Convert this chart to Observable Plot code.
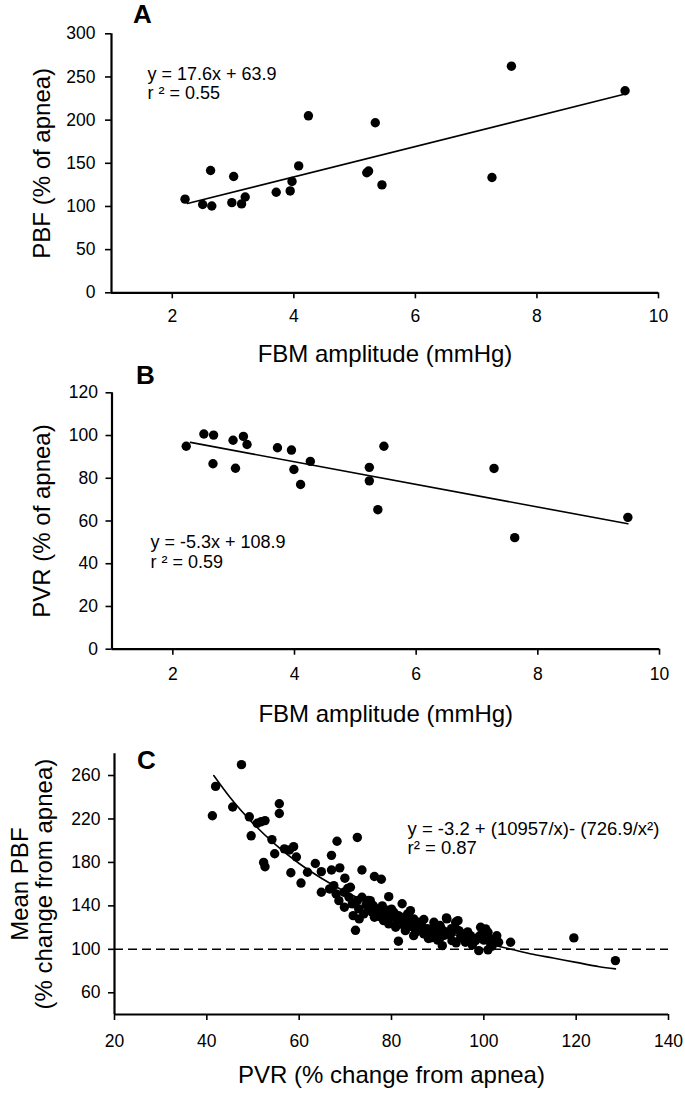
<!DOCTYPE html>
<html><head><meta charset="utf-8">
<script src="https://cdn.jsdelivr.net/npm/d3@7"></script>
<script src="https://cdn.jsdelivr.net/npm/@observablehq/plot@0.6"></script>
<style>
body{margin:0;background:#fff;}
#wrap{position:relative;width:685px;height:1094px;background:#fff;overflow:hidden;}
#wrap svg{position:absolute;left:0;overflow:visible;}
</style></head><body><div id="wrap"></div>
<script>
const FONT = "'Liberation Sans', Arial, Helvetica, sans-serif";

// ---- Panel A: PBF vs FBM amplitude ----
const aFBM = [2.21, 2.50, 2.65, 2.63, 2.98, 3.01, 3.14, 3.20, 3.71, 3.94, 3.97, 4.08, 4.24, 5.20, 5.23, 5.34, 5.45, 7.26, 7.58, 9.45];
const aPBF = [108.5, 102.3, 100.5, 141.7, 104.4, 134.7, 103, 111, 116.5, 118, 129, 147, 205, 139, 141, 197, 125, 133.6, 262.5, 234];
const aFitX = [2.25, 9.45];
const aFitY = [103.5, 230.2];
const aXTicks = [2, 4, 6, 8, 10];
const aYTicks = [0, 50, 100, 150, 200, 250, 300];
const aXDomain = [1, 10];
const aYDomain = [0, 300];
const aEq = ["y = 17.6x + 63.9", "r ² = 0.55"];

// ---- Panel B: PVR vs FBM amplitude ----
const bFBM = [2.22, 2.51, 2.67, 2.66, 2.99, 3.03, 3.16, 3.22, 3.72, 3.95, 3.99, 4.10, 4.26, 5.23, 5.23, 5.37, 5.47, 7.28, 7.62, 9.48];
const bPVR = [95.0, 100.7, 100.2, 86.8, 97.8, 84.7, 99.6, 95.8, 94.3, 93.2, 84.1, 77.1, 87.9, 85.1, 78.8, 65.3, 95.0, 84.6, 52.2, 61.7];
const bFitX = [2.29, 9.48];
const bFitY = [96.8, 58.7];
const bXTicks = [2, 4, 6, 8, 10];
const bYTicks = [0, 20, 40, 60, 80, 100, 120];
const bXDomain = [1, 10];
const bYDomain = [0, 120];
const bEq = ["y = -5.3x + 108.9", "r ² = 0.59"];

// ---- Panel C: Mean PBF vs PVR ----
const cPVR = [41.2, 41.9, 45.6, 47.5, 49.2, 49.6, 50.9, 51.8, 52.6, 52.3, 52.6, 54.1, 54.7, 55.7, 55.7, 56.8, 57.9, 58.8, 59.4, 58.2,
  60.4, 61.8, 63.5, 64.8, 68.2, 67.0, 67.0, 68.8, 72.6, 69.9, 73.6, 76.3, 77.8, 79.4, 72.2, 81.5, 82.3,
  64.8, 66.6, 67.5, 68.0, 68.6, 69.7, 69.8, 70.8, 71.1, 71.5, 71.7, 72.6, 72.9, 73.6, 74.0, 74.9, 75.4, 75.8, 76.3, 76.9,
  77.6, 78.3, 78.7, 79.4, 79.8, 80.5, 80.9, 81.2, 81.9, 82.7, 83.0, 83.5, 84.1, 84.7, 85.2, 85.9, 86.4, 87.0, 87.7, 88.4,
  89.2, 89.9, 90.6, 91.2, 91.9, 92.4, 93.1, 93.9, 94.4, 95.0, 95.7, 96.8,
  84.1, 83.0, 84.8, 85.9, 82.7, 85.2, 84.8, 87.7, 89.2, 90.6, 92.0, 93.9, 89.2, 91.0, 92.8, 94.6, 95.3, 96.0,
  97.1, 98.2, 99.3, 100.4, 99.6, 100.9, 101.4, 98.9, 100.9, 102.2, 103.2, 105.8, 119.5, 128.5,
  73.0, 74.5, 70.5, 78.0, 80.0, 86.0, 88.0, 97.5, 99.0, 101.5,
  76.0, 77.5, 79.0, 81.5, 83.5, 86.5, 88.5, 90.0, 91.5, 93.0, 94.0, 96.5, 97.5, 98.5, 100.0, 101.8, 102.8, 90.5, 87.0, 75.0];
const cPBF = [223, 250, 231, 270, 222, 204.5, 216, 217.5, 218.5, 180, 176, 201, 188, 234, 225, 192.5, 191.5, 194.5, 185, 170.5,
  161, 171, 179, 171.5, 199.5, 186.5, 173, 175, 203, 165.5, 173, 167, 164.5, 148.5, 117.5, 107.5, 142,
  152.5, 155.6, 158.6, 151.0, 144.8, 152.5, 138.7, 147.9, 157.1, 141.8, 131.0, 144.8, 137.2, 147.9, 132.6, 138.7, 144.8, 134.1, 129.5, 137.2,
  132.6, 126.4, 134.1, 123.4, 129.5, 134.1, 120.3, 126.4, 129.5, 123.4, 117.2, 132.6, 128.0, 120.3, 124.9, 117.2, 123.4, 114.2, 118.8, 114.2,
  121.8, 115.7, 111.1, 117.2, 128.9, 114.2, 108.0, 118.8, 126.4, 111.1, 114.2, 108.0,
  135.6, 129.5, 128.0, 124.9, 121.8, 115.7, 112.6, 118.8, 124.9, 120.3, 128.0, 124.9, 111.1, 103.4, 114.2, 117.2, 111.1, 106.5,
  112.6, 108.0, 120.3, 118.8, 114.2, 115.7, 109.6, 98.8, 99.5, 108.0, 106.5, 106.5, 110.5, 89.6,
  128.0, 141.0, 156.0, 140.0, 137.0, 120.0, 110.0, 104.0, 112.0, 104.0,
  140.5, 130.0, 136.0, 131.0, 124.0, 121.0, 110.5, 108.5, 113.0, 119.0, 106.0, 116.0, 104.5, 110.0, 108.5, 103.0, 112.5, 122.0, 127.5, 145.0];
const cCurveX = [41.5, 45, 50, 55, 60, 65, 70, 75, 80, 85, 90, 95, 100, 105, 110, 115, 120, 125, 128.5];
const cCurveY = [260, 240, 216, 196, 179, 165, 153, 143, 134, 126, 118, 112, 106, 101, 96, 92, 88, 84, 82];
const cRef = [100];
const cXTicks = [20, 40, 60, 80, 100, 120, 140];
const cYTicks = [60, 100, 140, 180, 220, 260];
const cXDomain = [20, 140];
const cYDomain = [40, 280];
const cEq = ["y = -3.2 + (10957/x)- (726.9/x²)", "r² = 0.87"];

const zipXY = (xs, ys) => xs.map((x, i) => ({x, y: ys[i]}));

function panel(o) {
  const svg = Plot.plot({
    width: 685, height: o.height,
    marginTop: o.mt, marginBottom: o.height - o.axisY, marginLeft: o.ml, marginRight: 685 - o.mr,
    style: {fontFamily: FONT, background: "transparent", color: "black", overflow: "visible"},
    x: {domain: o.xDomain},
    y: {domain: o.yDomain},
    marks: [
      Plot.axisX({ticks: o.xTicks, tickSize: 6, tickPadding: o.xPad, fontSize: 17.5, strokeWidth: 1.6, label: null}),
      Plot.axisY({ticks: o.yTicks, tickSize: 6, tickPadding: o.yPad, fontSize: 17.5, strokeWidth: 1.6, label: null}),
      Plot.ruleX([o.xDomain[0]], {y1: o.yDomain[0], y2: o.yDomain[1], strokeWidth: 2.2}),
      Plot.ruleY([o.yDomain[0]], {x1: o.xDomain[0], x2: o.xDomain[1], strokeWidth: 2.2}),
      ...(o.extra || []),
      Plot.line(o.fit, {x: "x", y: "y", strokeWidth: 1.6, curve: o.curve || "linear"}),
      Plot.dot(o.pts, {x: "x", y: "y", r: o.r, fill: "black", stroke: "none"}),
      Plot.text([o.letter], {frameAnchor: "top-left", dx: o.letterDx, dy: o.letterDy, textAnchor: "middle", lineAnchor: "bottom", fontSize: 26, fontWeight: "bold"}),
      Plot.text([o.eq[0]], {frameAnchor: "top-left", dx: o.eqDx, dy: o.eqDy[0], textAnchor: "start", lineAnchor: "middle", fontSize: o.eqSize}),
      Plot.text([o.eq[1]], {frameAnchor: "top-left", dx: o.eqDx, dy: o.eqDy[1], textAnchor: "start", lineAnchor: "middle", fontSize: o.eqSize}),
      Plot.text([o.xLabel], {frameAnchor: "bottom", dy: o.xLabelDy, textAnchor: "middle", lineAnchor: "middle", fontSize: 24}),
      ...o.yLabels.map((t, i) => Plot.text([t], {frameAnchor: "left", dx: o.yLabelDx[i], rotate: -90, textAnchor: "middle", lineAnchor: "middle", fontSize: 24}))
    ]
  });
  svg.style.top = o.top + "px";
  return svg;
}

const wrap = document.getElementById("wrap");

wrap.appendChild(panel({
  top: 0, height: 364, mt: 33.3, axisY: 292.3, ml: 111, mr: 658,
  xDomain: aXDomain, yDomain: aYDomain, xTicks: aXTicks, yTicks: aYTicks, xPad: 11, yPad: 10,
  fit: zipXY(aFitX, aFitY), pts: zipXY(aFBM, aPBF), r: 4.7,
  letter: "A", letterDx: 31, letterDy: -10.6,
  eq: aEq, eqDx: 36, eqDy: [40.2, 59.2], eqSize: 18,
  xLabel: "FBM amplitude (mmHg)", xLabelDy: 62,
  yLabels: ["PBF (% of apnea)"], yLabelDx: [-69]
}));

wrap.appendChild(panel({
  top: 364, height: 362, mt: 28.3, axisY: 284.7, ml: 111.5, mr: 659,
  xDomain: bXDomain, yDomain: bYDomain, xTicks: bXTicks, yTicks: bYTicks, xPad: 12, yPad: 8,
  fit: zipXY(bFitX, bFitY), pts: zipXY(bFBM, bPVR), r: 4.7,
  letter: "B", letterDx: 33.5, letterDy: -9.3,
  eq: bEq, eqDx: 38.5, eqDy: [149.4, 169.4], eqSize: 18,
  xLabel: "FBM amplitude (mmHg)", xLabelDy: 65,
  yLabels: ["PVR (% of apnea)"], yLabelDx: [-70]
}));

wrap.appendChild(panel({
  top: 726, height: 368, mt: 27.3, axisY: 288, ml: 114, mr: 668,
  xDomain: cXDomain, yDomain: cYDomain, xTicks: cXTicks, yTicks: cYTicks, xPad: 14, yPad: 8,
  fit: zipXY(cCurveX, cCurveY), curve: "monotone-x", pts: zipXY(cPVR, cPBF), r: 4.7,
  extra: [Plot.ruleY(cRef, {strokeWidth: 1.5, strokeDasharray: "9,5"})],
  letter: "C", letterDx: 32, letterDy: 14.7,
  eq: cEq, eqDx: 293, eqDy: [75, 94], eqSize: 18.5,
  xLabel: "PVR (% change from apnea)", xLabelDy: 61,
  yLabels: ["Mean PBF", "(% change from apnea)"], yLabelDx: [-94, -70]
}));
</script></body></html>
